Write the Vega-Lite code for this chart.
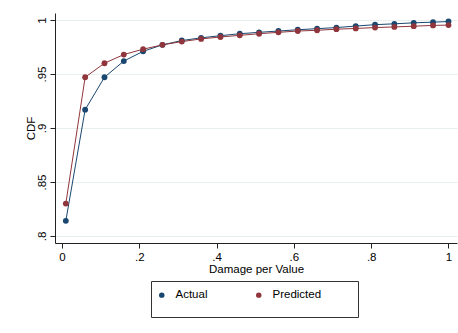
{
  "$schema": "https://vega.github.io/schema/vega-lite/v6.json",
  "width": 402,
  "height": 230,
  "autosize": {"type": "none"},
  "padding": {"left": 55, "top": 13, "right": 1, "bottom": 90},
  "background": "white",
  "config": {
    "view": {"stroke": null},
    "font": "Liberation Sans"
  },
  "data": {
    "values": [
      {"damage": 0.01, "series": "Actual", "cdf": 0.814},
      {"damage": 0.06, "series": "Actual", "cdf": 0.917},
      {"damage": 0.11, "series": "Actual", "cdf": 0.947},
      {"damage": 0.16, "series": "Actual", "cdf": 0.962},
      {"damage": 0.21, "series": "Actual", "cdf": 0.971},
      {"damage": 0.26, "series": "Actual", "cdf": 0.977},
      {"damage": 0.31, "series": "Actual", "cdf": 0.981},
      {"damage": 0.36, "series": "Actual", "cdf": 0.9835},
      {"damage": 0.41, "series": "Actual", "cdf": 0.9855},
      {"damage": 0.46, "series": "Actual", "cdf": 0.9873},
      {"damage": 0.51, "series": "Actual", "cdf": 0.9886},
      {"damage": 0.56, "series": "Actual", "cdf": 0.9898},
      {"damage": 0.61, "series": "Actual", "cdf": 0.991},
      {"damage": 0.66, "series": "Actual", "cdf": 0.992},
      {"damage": 0.71, "series": "Actual", "cdf": 0.993},
      {"damage": 0.76, "series": "Actual", "cdf": 0.9944},
      {"damage": 0.81, "series": "Actual", "cdf": 0.9957},
      {"damage": 0.86, "series": "Actual", "cdf": 0.9965},
      {"damage": 0.91, "series": "Actual", "cdf": 0.9974},
      {"damage": 0.96, "series": "Actual", "cdf": 0.998},
      {"damage": 1.0, "series": "Actual", "cdf": 0.9986},
      {"damage": 0.01, "series": "Predicted", "cdf": 0.83},
      {"damage": 0.06, "series": "Predicted", "cdf": 0.947},
      {"damage": 0.11, "series": "Predicted", "cdf": 0.96},
      {"damage": 0.16, "series": "Predicted", "cdf": 0.968},
      {"damage": 0.21, "series": "Predicted", "cdf": 0.973},
      {"damage": 0.26, "series": "Predicted", "cdf": 0.977},
      {"damage": 0.31, "series": "Predicted", "cdf": 0.98},
      {"damage": 0.36, "series": "Predicted", "cdf": 0.9825},
      {"damage": 0.41, "series": "Predicted", "cdf": 0.9843},
      {"damage": 0.46, "series": "Predicted", "cdf": 0.9858},
      {"damage": 0.51, "series": "Predicted", "cdf": 0.9873},
      {"damage": 0.56, "series": "Predicted", "cdf": 0.9886},
      {"damage": 0.61, "series": "Predicted", "cdf": 0.9898},
      {"damage": 0.66, "series": "Predicted", "cdf": 0.9905},
      {"damage": 0.71, "series": "Predicted", "cdf": 0.9915},
      {"damage": 0.76, "series": "Predicted", "cdf": 0.9922},
      {"damage": 0.81, "series": "Predicted", "cdf": 0.993},
      {"damage": 0.86, "series": "Predicted", "cdf": 0.9936},
      {"damage": 0.91, "series": "Predicted", "cdf": 0.9943},
      {"damage": 0.96, "series": "Predicted", "cdf": 0.995},
      {"damage": 1.0, "series": "Predicted", "cdf": 0.9953}
    ]
  },
  "mark": {
    "type": "line",
    "strokeWidth": 1,
    "point": {"filled": true, "size": 34, "opacity": 1}
  },
  "encoding": {
    "x": {
      "field": "damage",
      "type": "quantitative",
      "title": "Damage per Value",
      "scale": {"domain": [-0.018, 1.022], "nice": false, "zero": false},
      "axis": {
        "values": [0, 0.2, 0.4, 0.6, 0.8, 1],
        "labelExpr": "datum.value == 0 ? '0' : datum.value == 1 ? '1' : replace(format(datum.value, '.2~f'), '0.', '.')",
        "grid": false,
        "domainColor": "#222222",
        "tickColor": "#222222",
        "tickSize": 5,
        "labelPadding": 3,
        "labelFontSize": 11.5,
        "labelColor": "#000000",
        "labelFlush": false,
        "titleFontSize": 11.5,
        "titleFontWeight": "normal",
        "titleColor": "#000000",
        "titlePadding": 1
      }
    },
    "y": {
      "field": "cdf",
      "type": "quantitative",
      "title": "CDF",
      "scale": {"domain": [0.7935, 1.0065], "nice": false, "zero": false},
      "axis": {
        "values": [0.8, 0.85, 0.9, 0.95, 1],
        "labelExpr": "datum.value == 1 ? '1' : replace(format(datum.value, '.2~f'), '0.', '.')",
        "grid": true,
        "gridColor": "#e8eff1",
        "gridWidth": 1,
        "domainColor": "#222222",
        "tickColor": "#222222",
        "tickSize": 5,
        "labelAngle": -90,
        "labelAlign": "center",
        "labelBaseline": "bottom",
        "labelPadding": 3,
        "labelFontSize": 11.5,
        "labelColor": "#000000",
        "titleFontSize": 11.5,
        "titleFontWeight": "normal",
        "titleColor": "#000000",
        "titlePadding": 0
      }
    },
    "color": {
      "field": "series",
      "type": "nominal",
      "scale": {"domain": ["Actual", "Predicted"], "range": ["#1a476f", "#90353b"]},
      "legend": {
        "title": "\u00a0",
        "titleOrient": "bottom",
        "titleFontSize": 2,
        "titlePadding": 6,
        "orient": "none",
        "legendX": 96,
        "legendY": 268,
        "direction": "horizontal",
        "columns": 2,
        "gridAlign": "all",
        "columnPadding": 3,
        "padding": 8,
        "strokeColor": "#333333",
        "fillColor": "#ffffff",
        "symbolType": "circle",
        "symbolSize": 30,
        "symbolOffset": -3,
        "labelOffset": 8,
        "labelFontSize": 11.5,
        "labelColor": "#000000",
        "labelExpr": "datum.label + '\u00a0\u00a0\u00a0\u00a0\u00a0\u00a0\u00a0\u00a0\u00a0\u200b'",
        "encode": {
          "symbols": {
            "update": {
              "fill": {"scale": "color", "field": "value"},
              "strokeWidth": {"value": 0}
            }
          }
        }
      }
    }
  }
}
